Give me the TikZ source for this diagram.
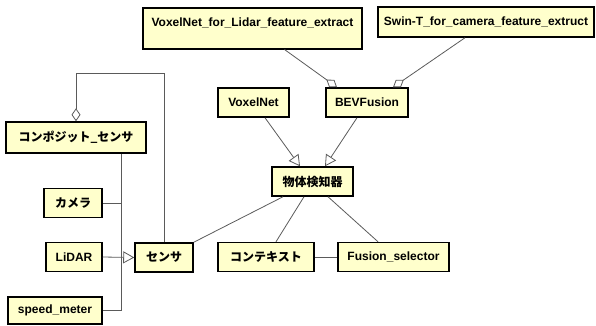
\documentclass[tikz,border=0pt]{standalone}
\usepackage{fontspec}
\setmainfont{Liberation Sans}
\newfontfamily\jp{Noto Sans CJK JP}
\usepackage{tikz}
\usetikzlibrary{arrows.meta, positioning, calc}

\definecolor{boxfill}{HTML}{FFFFCC}
\definecolor{linegray}{HTML}{5A5A5A}

\begin{document}
\begin{tikzpicture}[x=1pt, y=-1pt,
    box/.style={draw=black, line width=1.5pt, fill=boxfill, font=\bfseries\fontsize{12pt}{14pt}\selectfont,
        minimum height=29pt, inner xsep=2pt, inner ysep=0pt},
    link/.style={draw=linegray, line width=0.8pt},
    gen/.style={link, -{Triangle[open, length=11pt, width=12pt]}},
    agg/.style={link, -{Diamond[open, length=13pt, width=9pt]}}]
    \useasboundingbox (0,0) rectangle (596,325);

    % top row
    \node[box, anchor=north, minimum width=219pt, minimum height=41pt, inner ysep=4.5pt,
        text height=14pt, text depth=18pt] (vlidar) at (252.5,7) {VoxelNet\_for\_Lidar\_feature\_extract};
    \node[box, minimum width=216pt, minimum height=30pt] (swin) at (486,22) {Swin-T\_for\_camera\_feature\_extruct};

    % models
    \node[box, minimum width=71pt] (voxel) at (253.5,102.5) {VoxelNet};
    \node[box, minimum width=82pt] (bev) at (367,102.5) {BEVFusion};
    \node[box, minimum width=81pt] (detector) at (312.5,181.5) {\jp 物体検知器};

    % sensors
    \node[box, minimum width=140pt, minimum height=31pt] (composite) at (76,137.5) {\jp コンポジット\_センサ};
    \node[box, minimum width=58pt] (camera) at (73,203) {\jp カメラ};
    \node[box, minimum width=56pt] (lidar) at (74,257) {LiDAR};
    \node[box, minimum width=94pt, minimum height=27pt] (speed) at (55,310.5) {speed\_meter};
    \node[box, minimum width=58pt] (sensor) at (164,257.5) {\jp センサ};

    % detector parts
    \node[box, minimum width=96pt] (context) at (266,257) {\jp コンテキスト};
    \node[box, minimum width=111pt] (fsel) at (393.5,257) {Fusion\_selector};

    \coordinate (top) at (0,73);
    \coordinate (bus) at (121,0);

    \draw[agg] ([xshift=32pt]vlidar.south) -- ([xshift=-30pt]bev.north);
    \draw[agg] ([xshift=-21pt]swin.south) -- ([xshift=26pt]bev.north);
    \draw[gen] ([xshift=11.5pt]voxel.south) -- ([xshift=-12.5pt]detector.north);
    \draw[gen] ([xshift=-10pt]bev.south) -- ([xshift=12.5pt]detector.north);

    \draw[link] ([xshift=-29.5pt]detector.south) -- (sensor.north east);
    \draw[link] ([xshift=-8.5pt]detector.south) -- ([xshift=10pt]context.north);
    \draw[link] ([xshift=15.5pt]detector.south) -- ([xshift=-15.5pt]fsel.north);
    \draw[link] (context.east) -- (fsel.west);

    % composite holds sensors
    \draw[agg] (sensor.north) -- (sensor.north |- top) -| (composite.north);

    % sensor kinds
    \draw[link] (composite.south -| bus) -- (speed.east -| bus) -- (speed.east);
    \draw[link] (camera.east) -- (camera.east -| bus);
    \draw[gen] (lidar.east) -- (sensor.west);
\end{tikzpicture}
\end{document}
